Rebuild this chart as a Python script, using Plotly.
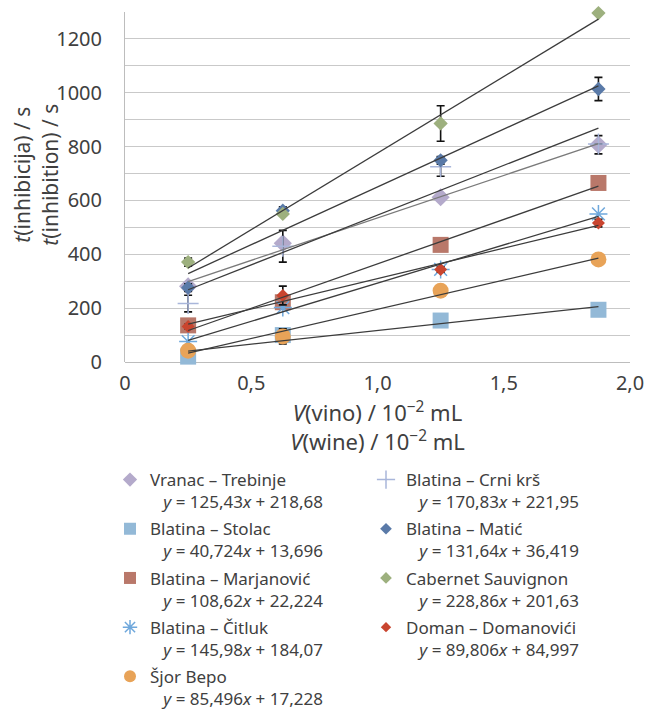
import numpy as np
import plotly.graph_objects as go

# ---------------- data ----------------
x_vol = [0.25, 0.625, 1.25, 1.875]

series_names = [
    "Vranac – Trebinje", "Blatina – Stolac", "Blatina – Marjanović",
    "Blatina – Čitluk", "Šjor Bepo", "Blatina – Crni krš",
    "Blatina – Matić", "Cabernet Sauvignon", "Doman – Domanovići",
]
vranac = [281, 441, 612, 807]
stolac = [20, 100, 154, 194]
marjanovic = [136, 222, 435, 665]
citluk = [76, 202, 344, 550]
sjor = [42, 95, 265, 381]
crni_krs = [217, 430, 725, 810]
matic = [276, 562, 749, 1014]
cabernet = [371, 550, 886, 1296]
doman = [132, 247, 344, 516]

err_vranac = [None, None, None, 34]
err_stolac = [None, None, None, None]
err_marjanovic = [None, None, None, None]
err_citluk = [None, None, None, None]
err_sjor = [None, 28, None, None]
err_crni_krs = [31, 59, 35, None]
err_matic = [14, 14, 14, 43]
err_cabernet = [15, None, 66, None]
err_doman = [8, 35, 10, 14]

equations = [
    "125,43", "218,68",
    "40,724", "13,696",
    "108,62", "22,224",
    "145,98", "184,07",
    "85,496", "17,228",
    "170,83", "221,95",
    "131,64", "36,419",
    "228,86", "201,63",
    "89,806", "84,997",
]

x_ticks = [0, 0.5, 1.0, 1.5, 2.0]
x_ticktext = ["0", "0,5", "1,0", "1,5", "2,0"]
y_ticks = [0, 200, 400, 600, 800, 1000, 1200]

x_title = "<i>V</i>(vino) / 10<sup>−2</sup> mL<br><i>V</i>(wine) / 10<sup>−2</sup> mL"
y_title = "<i>t</i>(inhibicija) / s<br><i>t</i>(inhibition) / s"

# ---------------- styles ----------------
values = [vranac, stolac, marjanovic, citluk, sjor, crni_krs, matic, cabernet, doman]
errors = [err_vranac, err_stolac, err_marjanovic, err_citluk, err_sjor,
          err_crni_krs, err_matic, err_cabernet, err_doman]
symbols = ["diamond", "square", "square", "asterisk-open", "circle",
           "cross-thin-open", "diamond", "diamond", "diamond"]
colors = ["#B4AACB", "#93B9D7", "#B9786A", "#6FA8DC", "#E8A358",
          "#A9B6DA", "#5A7AA8", "#9DB07E", "#C9452F"]
sizes = [14, 16, 16, 15, 16, 15, 11, 11, 10]
leg_sizes = [11, 12, 12, 12, 12, 13, 9, 9, 8]
legends = ["legend"] * 5 + ["legend2"] * 4
line_colors = ["#7A7A7A"] + ["#3C3C3C"] * 8

TXT = "#404040"
FONT = "Noto Sans"
NB = "\u00a0"

fig = go.Figure()


def mk(i, size):
    sym = symbols[i]
    open_sym = sym.endswith("open")
    return dict(symbol=sym, size=size, color=colors[i],
                line=dict(color=colors[i], width=1.5 if open_sym else 0))


# markers
for i, name in enumerate(series_names):
    err = errors[i]
    ey = None
    if any(e is not None for e in err):
        ey = dict(type="data", array=[e if e is not None else float("nan") for e in err],
                  visible=True, color="#111111", thickness=1.6, width=4)
    fig.add_trace(go.Scatter(
        x=x_vol, y=values[i], mode="markers", name=name,
        marker=mk(i, sizes[i]), error_y=ey, showlegend=False,
        legendgroup=f"g{i}", cliponaxis=False,
    ))

# linear trendlines (least squares from the data)
xs = np.array(x_vol)
for i, name in enumerate(series_names):
    k, n = np.polyfit(xs, np.array(values[i], dtype=float), 1)
    xe = [xs.min(), xs.max()]
    fig.add_trace(go.Scatter(
        x=xe, y=[k * v + n for v in xe], mode="lines",
        line=dict(color=line_colors[i], width=1.3),
        showlegend=False, hoverinfo="skip",
    ))

# legend entries (smaller symbols, as in the reference)
for i, name in enumerate(series_names):
    a, b = equations[2 * i], equations[2 * i + 1]
    label = f"{name}<br>{NB*3}<i>y</i> = {a}<i>x</i> + {b}"
    fig.add_trace(go.Scatter(
        x=[None], y=[None], mode="markers", name=label,
        marker=mk(i, leg_sizes[i]), legend=legends[i], legendgroup=f"g{i}",
        showlegend=True, hoverinfo="skip",
    ))

L, R, T, B = 125, 16, 12, 349
leg_common = dict(xref="container", yref="container", xanchor="left", yanchor="top",
                  font=dict(size=17, color=TXT), valign="top",
                  tracegroupgap=2, itemwidth=30, bgcolor="rgba(0,0,0,0)")
fig.update_layout(
    width=646, height=711,
    margin=dict(l=L, r=R, t=T, b=B, autoexpand=False),
    paper_bgcolor="white", plot_bgcolor="white",
    font=dict(family=FONT, color=TXT, size=16),
    xaxis=dict(
        range=[0, 2], tickvals=x_ticks, ticktext=x_ticktext,
        showgrid=False, zeroline=False, showline=False, automargin=False,
        ticks="", ticklabelstandoff=7,
        tickfont=dict(size=20, color=TXT),
        title=dict(text=x_title, font=dict(size=22, color=TXT), standoff=8),
    ),
    yaxis=dict(
        range=[0, 1300], tickvals=y_ticks, automargin=False,
        showgrid=True, gridcolor="#C9C9C9", gridwidth=1,
        minor=dict(dtick=100, tick0=0, showgrid=True, gridcolor="#C9C9C9", gridwidth=1),
        zeroline=True, zerolinecolor="#BDBDBD", zerolinewidth=1,
        showline=True, linecolor="#BDBDBD", linewidth=1,
        ticks="", ticklabelstandoff=18,
        tickfont=dict(size=20, color=TXT),
    ),
    annotations=[dict(
        text=y_title, textangle=-90, showarrow=False,
        xref="paper", yref="paper", x=(36 - L) / 505, y=0.535,
        xanchor="center", yanchor="middle",
        font=dict(size=21, color=TXT), align="center",
    )],
    legend=dict(x=110 / 646, y=1 - 462 / 711, **leg_common),
    legend2=dict(x=366 / 646, y=1 - 462 / 711, **leg_common),
    showlegend=True,
)

fig.write_html("out.html")
